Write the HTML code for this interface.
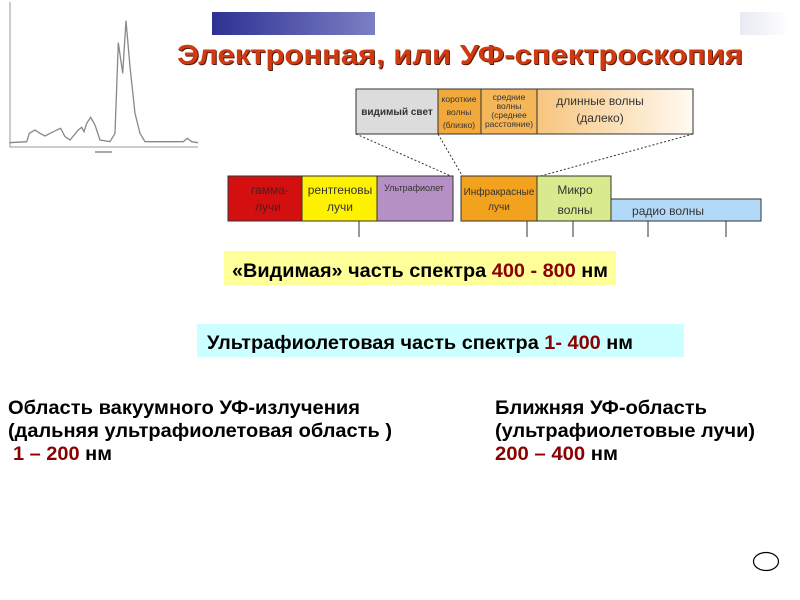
<!DOCTYPE html>
<html><head><meta charset="utf-8"><style>
html,body{margin:0;padding:0;background:#fff;}
svg{display:block;}
text{font-family:"Liberation Sans",Arial,sans-serif;}
</style></head><body>
<svg width="800" height="600" viewBox="0 0 800 600" xmlns="http://www.w3.org/2000/svg">
<defs>
<linearGradient id="bl" x1="0" x2="1"><stop offset="0" stop-color="#2e3192"/><stop offset="1" stop-color="#7b7fc4"/></linearGradient>
<linearGradient id="gr" x1="0" x2="1"><stop offset="0" stop-color="#e8eaf2"/><stop offset="1" stop-color="#ffffff"/></linearGradient>
<linearGradient id="lo" x1="0" x2="1"><stop offset="0" stop-color="#f7c57e"/><stop offset="1" stop-color="#fffaf2"/></linearGradient>
</defs>
<g stroke="#999" fill="none" stroke-width="1">
<path d="M10,2 V147 H198"/>
<path d="M9.3,142.7 L26.7,141.7 29.3,133.3 35,130 40,133.3 45,136 53.3,131.7 58.3,129.3 60.7,128.3 65,136.7 70,140 78.3,130 81.7,127.3 84,131.7 86.7,123.3 90.7,117.3 95,125 100,140 110,141.7 115,133.3 118.3,42.7 122.7,73.3 126,20.7 130,66.7 135,113.3 140,133.3 145,141.7 183.3,141.7 187.3,138.3 191.7,141.7 198,142.7" stroke="#888" stroke-width="1.3"/>
</g>
<line x1="95" y1="152" x2="112" y2="152" stroke="#aaa" stroke-width="2"/>
<rect x="212" y="12" width="163" height="23" fill="url(#bl)"/>
<rect x="740" y="12" width="50" height="23" fill="url(#gr)"/>
<text x="460" y="64" text-anchor="middle" font-size="28" font-weight="bold" fill="#5a1a08" textLength="566" lengthAdjust="spacingAndGlyphs" transform="translate(1,1)">Электронная, или УФ-спектроскопия</text>
<text x="460" y="64" text-anchor="middle" font-size="28" font-weight="bold" fill="#d03a10" textLength="566" lengthAdjust="spacingAndGlyphs">Электронная, или УФ-спектроскопия</text>
<rect x="356" y="89" width="82" height="45" fill="#dcdcdc"/>
<rect x="438" y="89" width="43" height="45" fill="#f2a93b"/>
<rect x="481" y="89" width="56" height="45" fill="#f5b65a"/>
<rect x="537" y="89" width="156" height="45" fill="url(#lo)"/>
<g stroke="#333" fill="none" stroke-width="1">
<rect x="356" y="89" width="337" height="45"/>
<line x1="438" y1="89" x2="438" y2="134"/><line x1="481" y1="89" x2="481" y2="134"/><line x1="537" y1="89" x2="537" y2="134"/>
</g>
<g stroke="#333" stroke-width="1" stroke-dasharray="2,2">
<line x1="356" y1="134" x2="453" y2="177"/>
<line x1="438" y1="134" x2="463" y2="177"/>
<line x1="693" y1="134" x2="537" y2="177"/>
</g>
<text x="397" y="115" font-size="10" font-weight="bold" fill="#333" text-anchor="middle">видимый свет</text>
<g font-size="8.5" fill="#333" text-anchor="middle">
<text x="459" y="102">короткие</text><text x="459" y="115">волны</text><text x="459" y="128">(близко)</text>
<text x="509" y="100">средние</text><text x="509" y="109">волны</text><text x="509" y="118">(среднее</text><text x="509" y="127">расстояние)</text>
</g>
<text x="600" y="105" font-size="12" fill="#333" text-anchor="middle">длинные волны</text>
<text x="600" y="122" font-size="12" fill="#333" text-anchor="middle">(далеко)</text>
<rect x="228" y="176" width="74" height="45" fill="#d40f0f"/>
<rect x="302" y="176" width="75" height="45" fill="#fff200"/>
<rect x="377" y="176" width="76" height="45" fill="#b590c4"/>
<rect x="461" y="176" width="76" height="45" fill="#f3a21e"/>
<rect x="537" y="176" width="74" height="45" fill="#d8ea8e"/>
<rect x="611" y="199" width="150" height="22" fill="#b3d9f8"/>
<g stroke="#333" fill="none" stroke-width="1">
<rect x="228" y="176" width="225" height="45"/>
<line x1="302" y1="176" x2="302" y2="221"/><line x1="377" y1="176" x2="377" y2="221"/>
<rect x="461" y="176" width="150" height="45"/><line x1="537" y1="176" x2="537" y2="221"/>
<rect x="611" y="199" width="150" height="22"/>
<line x1="359" y1="221" x2="359" y2="237"/><line x1="527" y1="221" x2="527" y2="237"/><line x1="573" y1="221" x2="573" y2="237"/><line x1="648" y1="221" x2="648" y2="237"/><line x1="726" y1="221" x2="726" y2="237"/>
</g>
<g font-size="12" text-anchor="middle">
<text x="270" y="194" fill="#5a1a1a">гамма-</text><text x="268" y="211" fill="#5a1a1a">лучи</text>
<text x="340" y="194" fill="#333">рентгеновы</text><text x="340" y="211" fill="#333">лучи</text>
<text x="414" y="191" font-size="9" fill="#333" font-family="Liberation Serif,serif">Ультрафиолет</text>
<text x="499" y="195" font-size="10" fill="#333">Инфракрасные</text><text x="499" y="210" font-size="10" fill="#333">лучи</text>
<text x="575" y="194" fill="#333">Микро</text><text x="575" y="214" fill="#333">волны</text>
<text x="668" y="215" fill="#333">радио волны</text>
</g>
<rect x="224" y="251" width="392" height="34" fill="#ffff99"/>
<text x="232" y="277" font-size="19" font-weight="bold" textLength="376" lengthAdjust="spacingAndGlyphs">«Видимая» часть спектра <tspan fill="#8b0000">400 - 800</tspan> нм</text>
<rect x="197" y="324" width="487" height="33" fill="#ccffff"/>
<text x="207" y="349" font-size="19" font-weight="bold" textLength="426" lengthAdjust="spacingAndGlyphs">Ультрафиолетовая часть спектра <tspan fill="#8b0000">1- 400</tspan> нм</text>
<g font-size="19" font-weight="bold">
<text x="8" y="414" textLength="352" lengthAdjust="spacingAndGlyphs">Область вакуумного УФ-излучения</text>
<text x="8" y="437" textLength="384" lengthAdjust="spacingAndGlyphs">(дальняя ультрафиолетовая область )</text>
<text x="13" y="460" textLength="99" lengthAdjust="spacingAndGlyphs"><tspan fill="#8b0000">1 – 200</tspan> нм</text>
<text x="495" y="414" textLength="212" lengthAdjust="spacingAndGlyphs">Ближняя УФ-область</text>
<text x="495" y="437" textLength="260" lengthAdjust="spacingAndGlyphs">(ультрафиолетовые лучи)</text>
<text x="495" y="460" textLength="123" lengthAdjust="spacingAndGlyphs"><tspan fill="#8b0000">200 – 400</tspan> нм</text>
</g>
<ellipse cx="766" cy="561.5" rx="12.5" ry="9" fill="none" stroke="#000" stroke-width="1.2"/>
</svg>
</body></html>
